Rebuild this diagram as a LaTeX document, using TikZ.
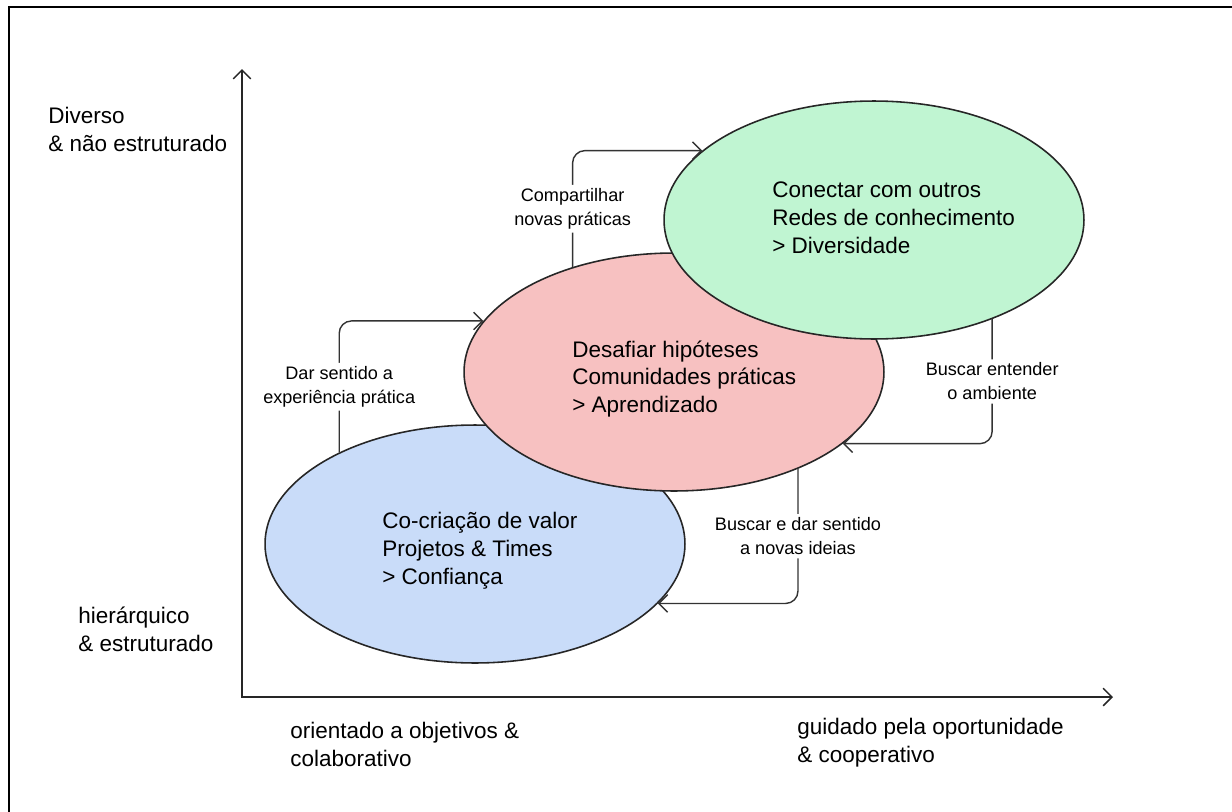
\documentclass[tikz,border=0pt]{standalone}
\usepackage{fontspec}
\setmainfont{Liberation Sans}
\usetikzlibrary{shapes.geometric,arrows.meta}

\definecolor{bluefill}{HTML}{C9DCF9}
\definecolor{redfill}{HTML}{F7C1C1}
\definecolor{greenfill}{HTML}{C0F5D2}

\tikzstyle{blob} =[shape=ellipse,draw=black!85,line width=0.9pt,
minimum width=8.4cm,minimum height=4.76cm,inner sep=0pt]
\tikzstyle{flow} =[draw=black!80,line width=0.8pt,rounded corners=7pt,
-{Straight Barb[length=5pt,width=10pt]}]
\tikzstyle{lbl} =[fill=white,align=center,inner sep=2pt,
font=\fontsize{10.3}{13.6}\selectfont]
\tikzstyle{side} =[anchor=west,align=left,inner sep=0pt,
font=\fontsize{12.8}{15.9}\selectfont]

\begin{document}
\begin{tikzpicture}[x=0.02cm, y=-0.02cm]
\useasboundingbox (0,0) rectangle (1232,812);
% frame
\draw[line width=0.9pt] (9,812) -- (9,7) -- (1232,7);

% axes
\coordinate (origin) at (242,697);
\coordinate (ytip) at (242,69);
\coordinate (xtip) at (1113,697);
\draw[line width=0.9pt, black!85,
	{Straight Barb[length=5pt,width=10pt]}-{Straight Barb[length=5pt,width=10pt]}]
	(ytip) -- (origin) -- (xtip);

\node[side] (top) at (48,129) {Diverso\\\& não estruturado};
\node[side] (bottom) at (78,629) {hierárquico\\\& estruturado};
\node[side] (left) at (290,744) {orientado a objetivos \&\\colaborativo};
\node[side] (right) at (797,743) {guidado pela oportunidade\\\& cooperativo};

% circles
\node[blob, fill=bluefill] (blue) at (475,544) {};
\node[side] (bluetext) at (382,551)
	{Co-criação de valor\\Projetos \& Times\\> Confiança};
\node[blob, fill=redfill] (red) at (674,372) {};
\node[side] (redtext) at (572,379)
	{Desafiar hipóteses\\Comunidades práticas\\> Aprendizado};
\node[blob, fill=greenfill] (green) at (874,220) {};
\node[side] (greentext) at (772,218)
	{Conectar com outros\\Redes de conhecimento\\> Diversidade};

% connectors
\draw[flow] (blue.146) |- node[lbl, pos=0.25] {Dar sentido a\\experiência prática} (red.165);
\draw[flow] (red.134.5) |- node[lbl, pos=0.25] {Compartilhar\\novas práticas} (green.158.4);
\draw[flow] (green.320.8) |- node[lbl, pos=0.25] {Buscar entender\\o ambiente} (red.337.7);
\draw[flow] (red.322.2) |- node[lbl, pos=0.25] {Buscar e dar sentido\\a novas ideias} (blue.342.1);
\end{tikzpicture}
\end{document}
